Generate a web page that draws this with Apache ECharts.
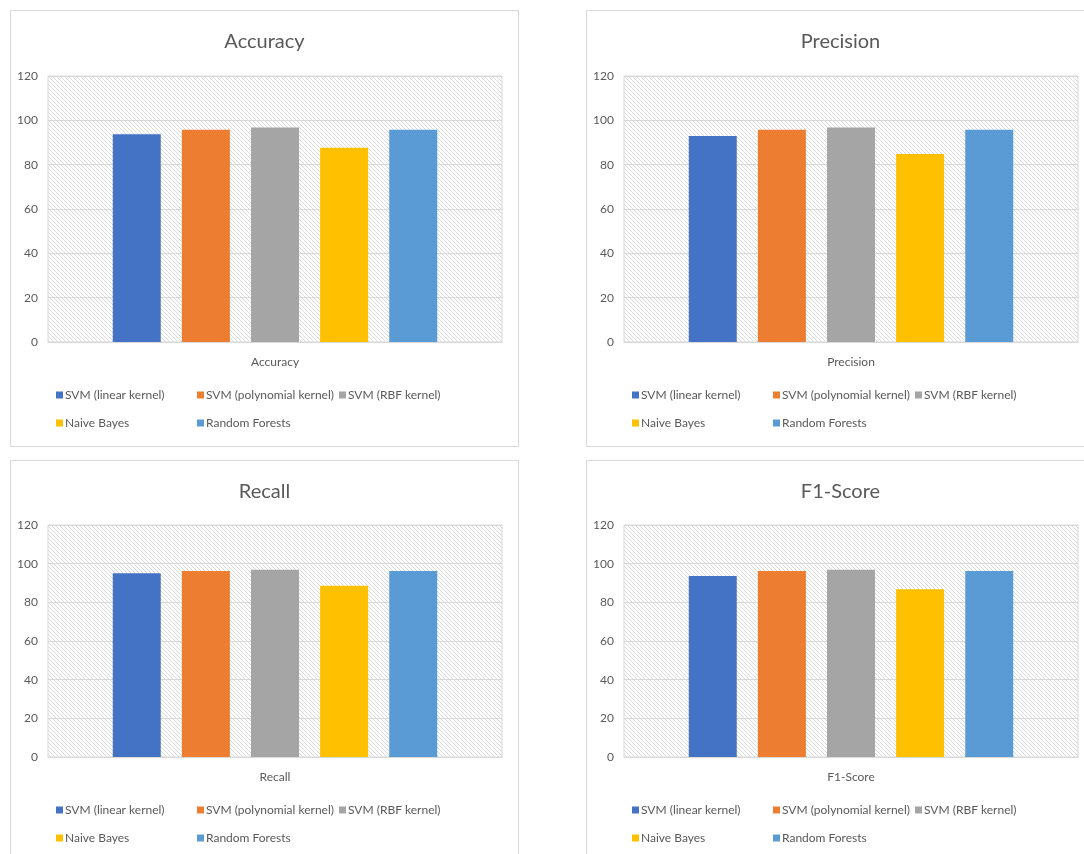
<!DOCTYPE html>
<html>
<head>
<meta charset="utf-8">
<script src="https://cdn.jsdelivr.net/npm/echarts@6/dist/echarts.min.js"></script>
<style>
  html, body { margin: 0; padding: 0; background: #ffffff; width: 1084px; height: 854px; overflow: hidden; position: relative; }
  .panel { position: absolute; border: 1px solid #d9d9d9; background: #ffffff; }
</style>
</head>
<body>
<div id="p0" class="panel" style="left:10px; top:10px; width:507px; height:435px;"></div>
<div id="p1" class="panel" style="left:586px; top:10px; width:507px; height:435px;"></div>
<div id="p2" class="panel" style="left:10px; top:460px; width:507px; height:401px;"></div>
<div id="p3" class="panel" style="left:586px; top:460px; width:507px; height:401px;"></div>
<script>
// Classifier names (one bar series each) and their colours
const models = ['SVM (linear kernel)', 'SVM (polynomial kernel)', 'SVM (RBF kernel)', 'Naive Bayes', 'Random Forests'];
const modelColors = ['#4472C4', '#ED7D31', '#A5A5A5', '#FFC000', '#5B9BD5'];

// Metric names, one panel per metric
const metrics = ['Accuracy', 'Precision', 'Recall', 'F1-Score'];

// Scores (%) per classifier, in the order of `models`
const accuracy  = [93.7, 95.8, 96.8, 87.6, 95.8];
const precision = [92.9, 95.8, 96.8, 84.8, 95.8];
const recall    = [95.0, 96.2, 96.9, 88.6, 96.2];
const f1Score   = [93.6, 96.2, 96.9, 86.8, 96.2];

// Y-axis ticks
const yMin = 0, yMax = 120, yStep = 20;

const metricValues = [accuracy, precision, recall, f1Score];

// Diagonal hatch fill for the plot area
function hatchTile() {
  const c = document.createElement('canvas');
  c.width = 4; c.height = 4;
  const g = c.getContext('2d');
  g.fillStyle = '#ffffff';
  g.fillRect(0, 0, 4, 4);
  g.fillStyle = '#dadada';
  for (let i = 0; i < 4; i++) g.fillRect(i, i, 1, 1);
  return c;
}
const hatch = { image: hatchTile(), repeat: 'repeat' };

const FONT = 'Lato, "Open Sans", sans-serif';
const TEXT = '#595959';

function build(idx) {
  const el = document.getElementById('p' + idx);
  const chart = echarts.init(el, null, { renderer: 'canvas' });
  const h = el.clientHeight;
  const gridTop = idx < 2 ? 65 : 64;
  const gridBottom = idx < 2 ? 104 : 105;
  const plotBottom = h - gridBottom;
  const row1 = plotBottom + 54 - 7;
  const row2 = plotBottom + 82 - 7;
  const legendPos = [[45, row1], [186, row1], [328, row1], [45, row2], [186, row2]];

  chart.setOption({
    animation: false,
    textStyle: { fontFamily: FONT },
    title: {
      text: metrics[idx],
      left: 'center',
      top: 16,
      textStyle: { fontFamily: FONT, fontSize: 20, fontWeight: 'normal', color: TEXT }
    },
    grid: {
      left: 37, right: 16, top: gridTop, bottom: gridBottom,
      show: true,
      backgroundColor: hatch,
      borderColor: '#d9d9d9',
      borderWidth: 1
    },
    legend: models.map((m, i) => ({
      data: [m],
      left: legendPos[i][0],
      top: legendPos[i][1],
      padding: 0,
      itemWidth: 7,
      itemHeight: 7,
      icon: 'rect',
      selectedMode: false,
      textStyle: { fontFamily: FONT, fontSize: 12, color: TEXT, padding: [0, 0, 0, -3] }
    })),
    xAxis: {
      type: 'category',
      data: [metrics[idx]],
      axisLine: { show: true, lineStyle: { color: '#d9d9d9' } },
      axisTick: { show: false },
      axisLabel: { margin: 14, fontFamily: FONT, fontSize: 12, color: TEXT }
    },
    yAxis: {
      type: 'value',
      min: yMin, max: yMax, interval: yStep,
      axisLine: { show: false },
      axisTick: { show: false },
      axisLabel: { margin: 10, fontFamily: FONT, fontSize: 12, color: TEXT },
      splitLine: { show: true, lineStyle: { color: '#d9d9d9', width: 1 } }
    },
    series: models.map((m, i) => ({
      name: m,
      type: 'bar',
      data: [metricValues[idx][i]],
      barWidth: 48,
      barGap: '44%',
      itemStyle: { color: modelColors[i] }
    }))
  });
}

for (let i = 0; i < 4; i++) build(i);
</script>
</body>
</html>
